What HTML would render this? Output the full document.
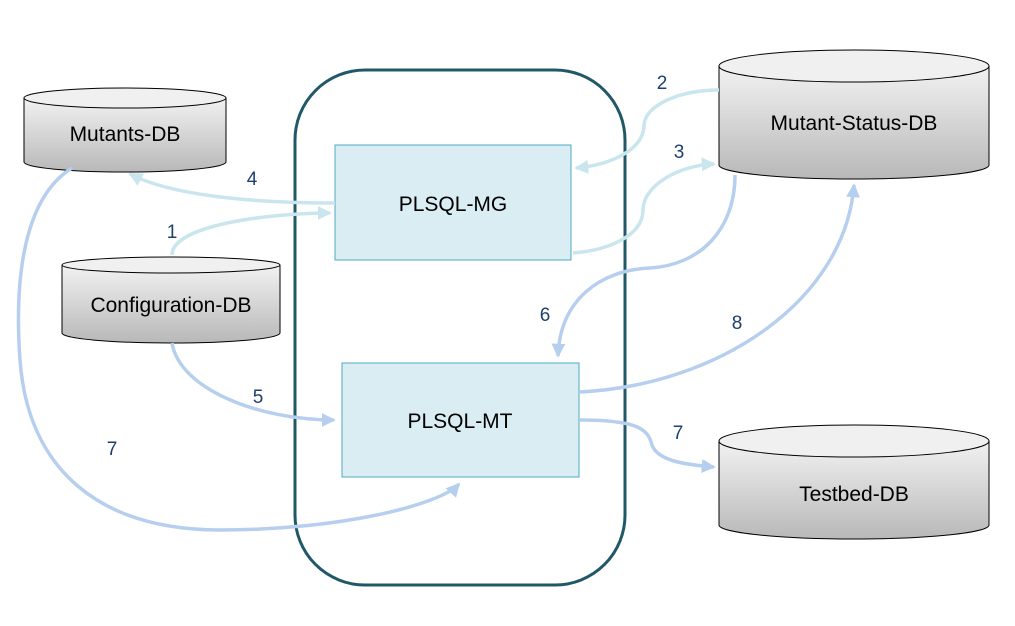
<!DOCTYPE html>
<html><head><meta charset="utf-8"><style>html,body{margin:0;padding:0;background:#fff}</style></head>
<body>
<svg width="1015" height="621" viewBox="0 0 1015 621" xmlns="http://www.w3.org/2000/svg" font-family="Liberation Sans, sans-serif">
<defs>
<linearGradient id="g" x1="0" y1="0" x2="0" y2="1"><stop offset="0" stop-color="#f2f2f2"/><stop offset="1" stop-color="#b8b8b8"/></linearGradient>
<marker id="ac" markerWidth="5" markerHeight="5" refX="3.5" refY="2.5" orient="auto" markerUnits="strokeWidth"><path d="M0,0.5 L4,2.5 L0,4.5 z" fill="#c9e6ee"/></marker>
<marker id="ab" markerWidth="5" markerHeight="5" refX="3.5" refY="2.5" orient="auto" markerUnits="strokeWidth"><path d="M0,0.5 L4,2.5 L0,4.5 z" fill="#b7cfee"/></marker>
</defs>
<rect x="295" y="70" width="330" height="515" rx="70" fill="none" stroke="#215868" stroke-width="3"/>
<g stroke="#000" stroke-width="1">
<path d="M24,98 L24,162 A101,10 0 0 0 226,162 L226,98" fill="url(#g)"/>
<ellipse cx="125" cy="98" rx="101" ry="10" fill="#f0f0f0"/>
<path d="M62,265 L62,333 A109,10 0 0 0 280,333 L280,265" fill="url(#g)"/>
<ellipse cx="171" cy="265" rx="109" ry="8" fill="#f0f0f0"/>
<path d="M719,66 L719,165 A135,14 0 0 0 989,165 L989,66" fill="url(#g)"/>
<ellipse cx="854" cy="66" rx="135" ry="16" fill="#f0f0f0"/>
<path d="M719,441 L719,525 A135,14 0 0 0 989,525 L989,441" fill="url(#g)"/>
<ellipse cx="854" cy="441" rx="135" ry="16" fill="#f0f0f0"/>
</g>
<g font-size="21" fill="#000" text-anchor="middle">
<text x="125" y="141">Mutants-DB</text>
<text x="171" y="312">Configuration-DB</text>
<text x="854" y="130">Mutant-Status-DB</text>
<text x="854" y="501">Testbed-DB</text>
</g>
<rect x="335" y="145" width="236" height="115" fill="#daedf3" stroke="#4bacc6" stroke-width="1"/>
<rect x="342" y="363" width="237" height="114" fill="#daedf3" stroke="#4bacc6" stroke-width="1"/>
<g font-size="21" fill="#000" text-anchor="middle">
<text x="453" y="211">PLSQL-MG</text>
<text x="460" y="428">PLSQL-MT</text>
</g>
<g fill="none" stroke-width="3.5">
<path d="M172,255 C172,225 270,213 330,213" stroke="#c9e6ee" marker-end="url(#ac)"/>
<path d="M335,203 C250,203 170,195 130,174" stroke="#c9e6ee" marker-end="url(#ac)"/>
<path d="M719,90 C680,90 645,105 644,125 C644,150 610,165 576,168" stroke="#c9e6ee" marker-end="url(#ac)"/>
<path d="M573,253 C610,250 643,235 643,210 C643,185 680,165 714,164" stroke="#c9e6ee" marker-end="url(#ac)"/>
<path d="M735,175 C735,230 700,265 650,268 C600,270 560,300 558,356" stroke="#b7cfee" marker-end="url(#ab)"/>
<path d="M580,392 C720,385 845,300 854,185" stroke="#b7cfee" marker-end="url(#ab)"/>
<path d="M172,343 C180,390 260,420 334,420" stroke="#b7cfee" marker-end="url(#ab)"/>
<path d="M580,420 C640,420 648,430 652,445 C658,462 690,465 714,467" stroke="#b7cfee" marker-end="url(#ab)"/>
<path d="M72,168 C20,200 15,290 20,360 C28,470 100,530 220,530 C340,530 440,505 459,484" stroke="#b7cfee" marker-end="url(#ab)"/>
</g>
<g font-size="19" fill="#1f3f6e" text-anchor="middle">
<text x="252" y="185">4</text>
<text x="172" y="238">1</text>
<text x="662" y="89">2</text>
<text x="679" y="158">3</text>
<text x="545" y="321">6</text>
<text x="737" y="329">8</text>
<text x="258" y="403">5</text>
<text x="678" y="439">7</text>
<text x="112" y="455">7</text>
</g>
</svg>
</body></html>
